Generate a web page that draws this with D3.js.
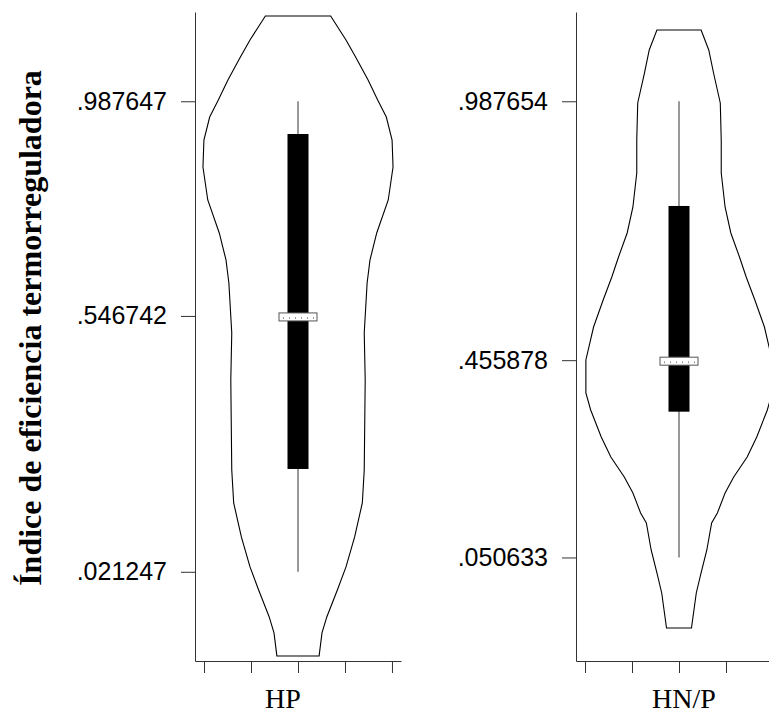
<!DOCTYPE html>
<html>
<head>
<meta charset="utf-8">
<script src="https://cdn.jsdelivr.net/npm/d3@7"></script>
<style>
  html, body { margin: 0; padding: 0; background: #fff; overflow: hidden; }
</style>
</head>
<body>
<svg id="chart" width="769" height="715"></svg>
<script>
// grupos y estadisticos de cada violin
const groups = ["HP", "HN/P"];
const adjHigh = [0.987647, 0.987654];
const q3 = [0.9204, 0.7726];
const medians = [0.546742, 0.455878];
const q1 = [0.2324, 0.3501];
const adjLow = [0.021247, 0.050633];
const tickLabels = [
    [".987647", ".546742", ".021247"],
    [".987654", ".455878", ".050633"]
];

// densidad estimada (valor, densidad relativa)
const hpValues = [1.1628, 1.1135, 1.0786, 1.0313, 0.9903, 0.9553, 0.9081, 0.8527, 0.7849, 0.7171, 0.6617,
    0.6144, 0.5117, 0.4152, 0.2303, 0.1626, 0.0928, 0.0312, -0.0161, -0.0715, -0.1044, -0.1516];
const hpDensity = [0.34, 0.50, 0.60, 0.73, 0.83, 0.92, 0.98, 0.99, 0.94, 0.82, 0.75,
    0.72, 0.69, 0.70, 0.69, 0.67, 0.59, 0.50, 0.41, 0.30, 0.25, 0.22];
const hnpValues = [1.1340, 1.0930, 1.0457, 0.9841, 0.9081, 0.8403, 0.7705, 0.7171, 0.6678, 0.6267, 0.5795,
    0.5240, 0.4563, 0.3885, 0.3536, 0.2981, 0.2571, 0.2160, 0.1831, 0.1421, 0.1215, 0.0660, 0.0188, -0.0223, -0.0942];
const hnpDensity = [0.23, 0.31, 0.36, 0.43, 0.44, 0.44, 0.48, 0.54, 0.63, 0.70, 0.79,
    0.89, 0.97, 0.97, 0.92, 0.81, 0.71, 0.57, 0.48, 0.40, 0.34, 0.29, 0.23, 0.18, 0.13];
const densities = [
    hpValues.map((v, i) => ({ value: v, density: hpDensity[i] })),
    hnpValues.map((v, i) => ({ value: v, density: hnpDensity[i] }))
];
const xTicks = [-1, -0.5, 0, 0.5, 1];

const svg = d3.select("#chart");
const panelLeft = [195, 576];
const panelWidth = 206;
const axisTop = 12;
const axisBottom = 661;
const labelCenter = [283, 684];

const y = d3.scaleLinear().domain([-0.162, 1.171]).range([axisBottom, axisTop]);
const x = d3.scaleLinear().domain([-1.096, 1.096]).range([0, panelWidth]);
const halfWidth = d3.scaleLinear().domain([0, 1]).range([0, 96]);

groups.forEach((name, i) => {
    const g = svg.append("g").attr("transform", `translate(${panelLeft[i]},0)`);
    const cx = x(0);

    // violin
    const area = d3.area()
        .y(d => y(d.value))
        .x0(d => cx - halfWidth(d.density))
        .x1(d => cx + halfWidth(d.density))
        .curve(d3.curveLinear);
    g.append("path")
        .datum(densities[i])
        .attr("d", area)
        .attr("fill", "none")
        .attr("stroke", "#000")
        .attr("stroke-width", 1.1);

    // bigote
    g.append("line")
        .attr("x1", cx).attr("x2", cx)
        .attr("y1", y(adjHigh[i])).attr("y2", y(adjLow[i]))
        .attr("stroke", "#333").attr("stroke-width", 1);

    // caja
    g.append("rect")
        .attr("x", cx - 10.5).attr("width", 21)
        .attr("y", y(q3[i])).attr("height", y(q1[i]) - y(q3[i]))
        .attr("fill", "#000");

    // mediana
    const my = y(medians[i]) + 1;
    g.append("rect")
        .attr("x", cx - 19).attr("width", 38)
        .attr("y", my - 4).attr("height", 8)
        .attr("fill", "#fff")
        .attr("stroke", "#555").attr("stroke-width", 1);
    g.append("line")
        .attr("x1", cx - 15).attr("x2", cx + 16)
        .attr("y1", my + 1).attr("y2", my + 1)
        .attr("stroke", "#999").attr("stroke-width", 2)
        .attr("stroke-dasharray", "1,5");

    // eje vertical
    const yAxis = g.append("g")
        .call(d3.axisLeft(y)
            .tickValues([adjHigh[i], medians[i], adjLow[i]])
            .tickFormat((d, k) => tickLabels[i][k])
            .tickSize(14).tickSizeOuter(0).tickPadding(14));
    yAxis.selectAll("path, line").attr("stroke", "#333");
    yAxis.selectAll("text")
        .attr("font-family", "Liberation Sans, Arial, sans-serif")
        .attr("font-size", 25)
        .attr("fill", "#000");

    // eje horizontal
    const xAxis = g.append("g")
        .attr("transform", `translate(0,${axisBottom})`)
        .call(d3.axisBottom(x).tickValues(xTicks).tickFormat("")
            .tickSize(12).tickSizeOuter(0));
    xAxis.selectAll("path, line").attr("stroke", "#333");

    svg.append("text")
        .attr("x", labelCenter[i]).attr("y", 708)
        .attr("text-anchor", "middle")
        .attr("font-family", "Liberation Serif, Times New Roman, serif")
        .attr("font-size", 28)
        .text(name);
});

svg.append("text")
    .attr("transform", "translate(41,328) rotate(-90)")
    .attr("text-anchor", "middle")
    .attr("font-family", "Liberation Serif, Times New Roman, serif")
    .attr("font-weight", "bold")
    .attr("font-size", 32)
    .text("Índice de eficiencia termorreguladora");
</script>
</body>
</html>
